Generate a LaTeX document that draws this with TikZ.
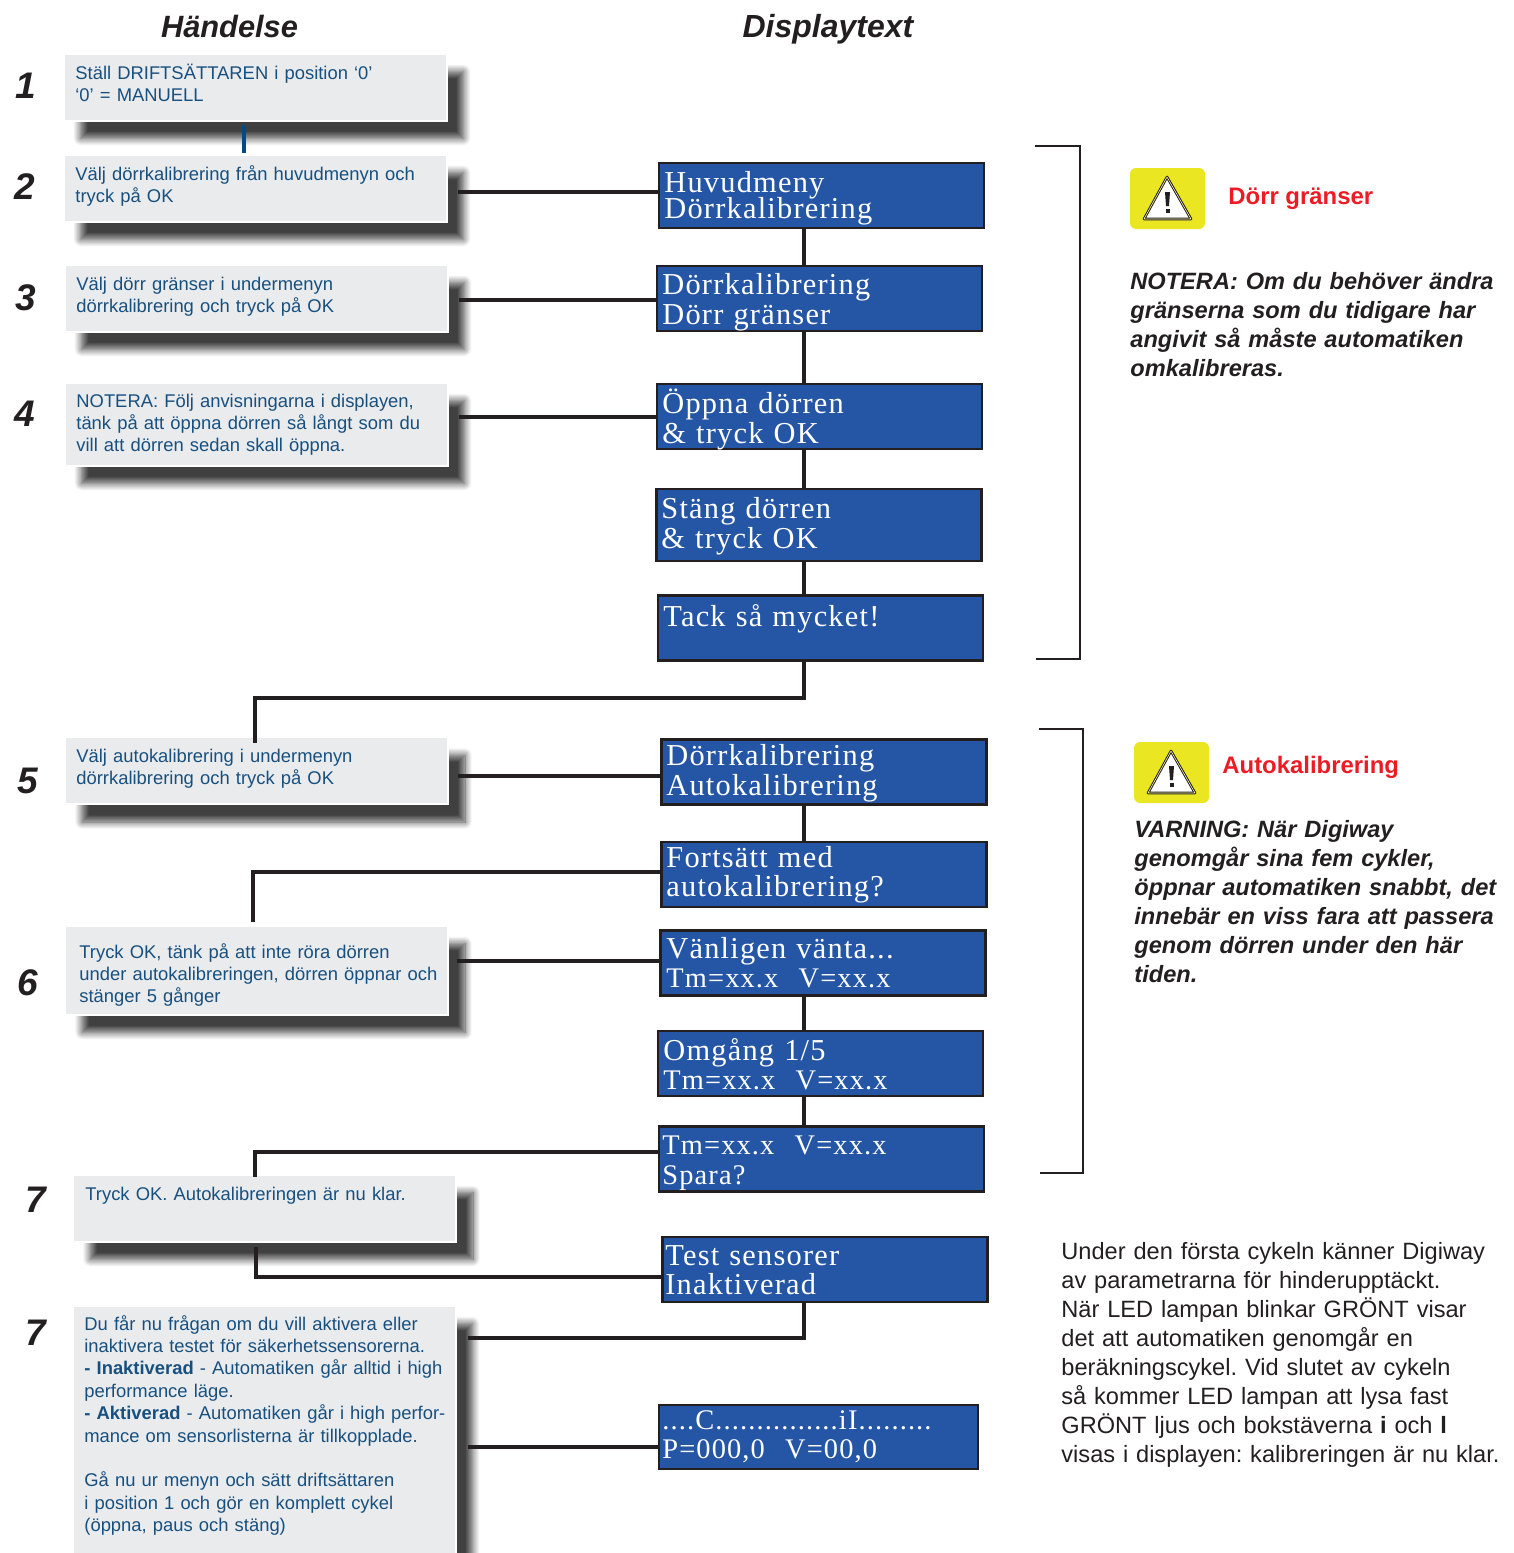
\documentclass[tikz,border=0pt]{standalone}
\usepackage{fontspec}
\setmainfont{Liberation Sans}
\newfontfamily\dispfont[LetterSpace=4]{Liberation Serif}
\usetikzlibrary{positioning, calc, shadows.blur}
\newcommand\tmsize{\fontsize{14.2}{14.5}\selectfont}

\definecolor{evfill}{HTML}{EAEBED}
\definecolor{evtext}{HTML}{17507F}
\definecolor{dispfill}{HTML}{2556A5}
\definecolor{linedark}{HTML}{231F20}
\definecolor{warnyellow}{HTML}{EAE622}
\definecolor{warnred}{HTML}{ED1C24}
\definecolor{linkblue}{HTML}{004B87}

\tikzset{
  evbox/.style={rectangle, fill=evfill, draw=white, line width=1pt, outer sep=0pt,
    minimum width=191.5pt, minimum height=33.5pt,
    blur shadow={shadow xshift=8.5pt, shadow yshift=-9pt, shadow blur radius=3.5pt, shadow blur steps=10, shadow opacity=75}},
  evtxt/.style={anchor=base west, inner sep=0pt, text width=200pt, align=left, text=evtext,
    font=\fontsize{9.2}{11.2}\selectfont},
  dispbox/.style={rectangle, fill=dispfill, draw=linedark, line width=1.2pt, outer sep=0pt,
    minimum width=162.5pt, minimum height=32.5pt},
  disptxt/.style={anchor=base west, inner sep=0pt, text width=150pt, align=left, text=white,
    font=\dispfont\fontsize{15.2}{14.5}\selectfont},
  steplabel/.style={anchor=base west, inner sep=0pt, text=linedark, font=\bfseries\itshape\fontsize{18.5}{20}\selectfont},
  headlabel/.style={anchor=base, inner sep=0pt, text=linedark, font=\bfseries\itshape\fontsize{15.4}{18}\selectfont},
  warntitle/.style={anchor=base west, inner sep=0pt, text=warnred, font=\bfseries\fontsize{11.95}{12}\selectfont},
  warntxt/.style={anchor=base west, inner sep=0pt, text width=190pt, align=left, text=linedark,
    font=\bfseries\itshape\fontsize{11.8}{14.5}\selectfont},
  conn/.style={draw=linedark, line width=2pt, line join=miter},
  bracket/.style={draw=linedark, line width=1.2pt},
  warnsign/.pic={
    \fill[warnyellow, rounded corners=3pt] (0,0) rectangle (75,61);
    \draw[linedark, line width=1.3pt, fill=white, line join=round] (37,9) -- (61,51) -- (14,51) -- cycle;
    \draw[warnyellow!40!white, line width=0.3pt, line join=round] (37,9) -- (61,51) -- (14,51) -- cycle;
    \fill[linedark] (35,24) -- (40,24) -- (39,38) -- (36,38) -- cycle;
    \fill[linedark] (35.5,41) rectangle (39.5,45);
  }
}

\begin{document}
\frenchspacing
\begin{tikzpicture}[x=0.5pt, y=-0.5pt]
  \useasboundingbox (0,0) rectangle (1514,1553);

  % Rubriker
  \node[headlabel] (headev) at (229.5,37) {Händelse};
  \node[headlabel, font=\bfseries\itshape\fontsize{16}{18}\selectfont] (headdisp) at (828,37) {Displaytext};

  % Steg
  \node[steplabel] (num1) at (15,98) {1};
  \node[steplabel] (num2) at (14,199) {2};
  \node[steplabel] (num3) at (15,310) {3};
  \node[steplabel] (num4) at (14,426) {4};
  \node[steplabel] (num5) at (17,793) {5};
  \node[steplabel] (num6) at (17,995) {6};
  \node[steplabel] (num7) at (25,1212) {7};
  \node[steplabel] (num8) at (25,1345) {7};

  % Handelser
  \node[evbox] (ev1) at (255,87) {};
  \node[evbox] (ev2) at (255,188) {};
  \node[evbox] (ev3) at (256,298) {};
  \node[evbox, minimum height=41.5pt] (ev4) at (256,424) {};
  \node[evbox] (ev5) at (256.5,770.5) {};
  \node[evbox, minimum height=44.5pt] (ev6) at (256.5,970) {};
  \node[evbox] (ev7) at (264.5,1208) {};
  \node[evbox, minimum height=124pt] (ev8) at (264,1429.5) {};

  \node[evtxt] (evt1) at (75,79) {Ställ DRIFTSÄTTAREN i position ‘0’\\‘0’ = MANUELL};
  \node[evtxt] (evt2) at (75,180) {Välj dörrkalibrering från huvudmenyn och\\tryck på OK};
  \node[evtxt] (evt3) at (76,290) {Välj dörr gränser i undermenyn\\dörrkalibrering och tryck på OK};
  \node[evtxt] (evt4) at (76,407) {NOTERA: Följ anvisningarna i displayen,\\tänk på att öppna dörren så långt som du\\vill att dörren sedan skall öppna.};
  \node[evtxt] (evt5) at (76,762) {Välj autokalibrering i undermenyn\\dörrkalibrering och tryck på OK};
  \node[evtxt] (evt6) at (79,958) {Tryck OK, tänk på att inte röra dörren\\under autokalibreringen, dörren öppnar och\\stänger 5 gånger};
  \node[evtxt] (evt7) at (85,1200) {Tryck OK. Autokalibreringen är nu klar.};
  \node[evtxt] (evt8) at (84,1330) {Du får nu frågan om du vill aktivera eller\\inaktivera testet för säkerhetssensorerna.\\\textbf{- Inaktiverad} - Automatiken går alltid i high\\performance läge.\\\textbf{- Aktiverad} - Automatiken går i high perfor-\\mance om sensorlisterna är tillkopplade.\\[11.2pt]Gå nu ur menyn och sätt driftsättaren\\i position 1 och gör en komplett cykel\\(öppna, paus och stäng)};

  % Displayer
  \node[dispbox] (disp1) at (821.5,195.5) {};
  \node[dispbox] (disp2) at (819.5,298.5) {};
  \node[dispbox] (disp3) at (819.5,416.5) {};
  \node[dispbox, minimum height=36pt] (disp4) at (819,525) {};
  \node[dispbox] (disp5) at (820.5,628) {};
  \node[dispbox] (disp6) at (824,772) {};
  \node[dispbox] (disp7) at (824,874.5) {};
  \node[dispbox] (disp8) at (823,963) {};
  \node[dispbox] (disp9) at (820.5,1063.5) {};
  \node[dispbox] (disp10) at (821.5,1159) {};
  \node[dispbox] (disp11) at (825,1269.5) {};
  \node[dispbox, minimum width=159.3pt, minimum height=32pt] (disp12) at (818.5,1437) {};

  \node[disptxt] (dtxt1) at (664,192) {Huvudmeny\\[-1.5pt]Dörrkalibrering};
  \node[disptxt] (dtxt2) at (662,294) {Dörrkalibrering\\[0.5pt]Dörr gränser};
  \node[disptxt] (dtxt3) at (662,413) {Öppna dörren\\[0.5pt]\&{} tryck OK};
  \node[disptxt] (dtxt4) at (661,518) {Stäng dörren\\[0.5pt]\&{} tryck OK};
  \node[disptxt] (dtxt5) at (663,626) {Tack så mycket!};
  \node[disptxt] (dtxt6) at (666,765) {Dörrkalibrering\\[0.5pt]Autokalibrering};
  \node[disptxt] (dtxt7) at (666,867) {Fortsätt med\\autokalibrering?};
  \node[disptxt] (dtxt8) at (666,958) {Vänligen vänta...\\\tmsize Tm=xx.x\ \ V=xx.x};
  \node[disptxt] (dtxt9) at (663,1060) {Omgång 1/5\\\tmsize Tm=xx.x\ \ V=xx.x};
  \node[disptxt] (dtxt10) at (662,1154) {\tmsize Tm=xx.x\ \ V=xx.x\\[0.5pt]Spara?};
  \node[disptxt] (dtxt11) at (665,1265) {Test sensorer\\Inaktiverad};
  \node[disptxt] (dtxt12) at (662,1429) {\tmsize ....C...............iI.........\\\tmsize P=000,0\ \ V=00,0};

  % Kopplingar
  \coordinate (trunk) at (804,0);
  \draw[linkblue, line width=2.4pt] ($(ev1.south)+(-11,4)$) -- ($(ev2.north)+(-11,-2)$);
  \coordinate (out2) at (458,192);
  \coordinate (out3) at (459,300);
  \coordinate (out4) at (459,417);
  \coordinate (out5) at (458,776);
  \coordinate (out6) at (457,961);
  \coordinate (out8) at (468,1447);
  \draw[conn] (out2) -- (out2 -| disp1.west);
  \draw[conn] (out3) -- (out3 -| disp2.west);
  \draw[conn] (out4) -- (out4 -| disp3.west);
  \draw[conn] (out5) -- (out5 -| disp6.west);
  \draw[conn] (out6) -- (out6 -| disp8.west);
  \draw[conn] (out8) -- (out8 -| disp12.west);
  \draw[conn] (disp1.south -| trunk) -- (disp2.north -| trunk);
  \draw[conn] (disp2.south -| trunk) -- (disp3.north -| trunk);
  \draw[conn] (disp3.south -| trunk) -- (disp4.north -| trunk);
  \draw[conn] (disp4.south -| trunk) -- (disp5.north -| trunk);
  \draw[conn] (disp6.south -| trunk) -- (disp7.north -| trunk);
  \draw[conn] (disp8.south -| trunk) -- (disp9.north -| trunk);
  \draw[conn] (disp9.south -| trunk) -- (disp10.north -| trunk);
  % Vinklar
  \coordinate (in5) at (255,743);
  \coordinate (in6) at (253,922);
  \coordinate (in7) at (255,1177);
  \coordinate (out7) at (256,1247);
  \coordinate (in8) at (468,1338);
  \draw[conn] (disp5.south -| trunk) -- (804,698) -| (in5);
  \draw[conn] (disp7.west |- 0,872) -| (in6);
  \draw[conn] (disp10.west |- 0,1152) -| (in7);
  \draw[conn] (out7) |- (disp11.west |- 0,1277);
  \draw[conn] (disp11.south -| trunk) |- (in8);

  % Klamrar
  \coordinate (br1a) at (1035,146);
  \coordinate (br1b) at (1036,659);
  \coordinate (br2a) at (1039,729);
  \coordinate (br2b) at (1040,1173);
  \draw[bracket] (br1a) -- (1080,146) -- (1080,659) -- (br1b);
  \draw[bracket] (br2a) -- (1083,729) -- (1083,1173) -- (br2b);

  % Varningar
  \pic at (1130,168) {warnsign};
  \pic at (1134,742) {warnsign};
  \node[warntitle] (title1) at (1228,204) {Dörr gränser};
  \node[warntitle] (title2) at (1222,773) {Autokalibrering};
  \node[warntxt] (note1) at (1130,289) {NOTERA: Om du behöver ändra\\gränserna som du tidigare har\\angivit så måste automatiken\\omkalibreras.};
  \node[warntxt] (note2) at (1134,837) {VARNING: När Digiway\\genomgår sina fem cykler,\\öppnar automatiken snabbt, det\\innebär en viss fara att passera\\genom dörren under den här\\tiden.};

  % Text nere till hoger
  \node[anchor=base west, inner sep=0pt, text width=225pt, align=left, text=linedark, font=\fontsize{11.8}{14.5}\selectfont] (para) at (1061,1259) {Under den första cykeln känner Digiway\\av parametrarna för hinderupptäckt.\\När LED lampan blinkar GRÖNT visar\\det att automatiken genomgår en\\beräkningscykel. Vid slutet av cykeln\\så kommer LED lampan att lysa fast\\GRÖNT ljus och bokstäverna \textbf{i} och \textbf{l}\\visas i displayen: kalibreringen är nu klar.};
\end{tikzpicture}
\end{document}
